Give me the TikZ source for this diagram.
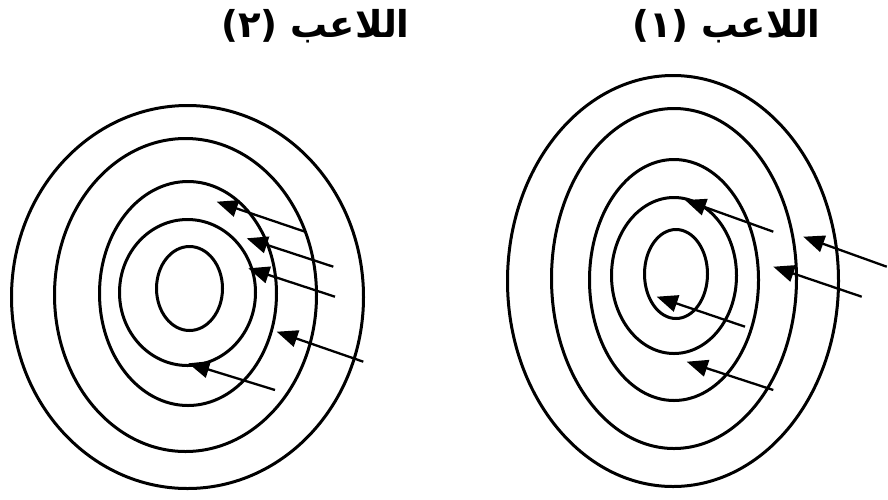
\documentclass[tikz,border=0pt]{standalone}
\usepackage{fontspec}
\usetikzlibrary{arrows.meta}
\newfontfamily\arabicfont[Script=Arabic]{DejaVu Sans}
\TeXXeTstate=1
\begin{document}
\begin{tikzpicture}[x=1pt,y=-1pt,
    ring/.style={line width=3pt},
    shot/.style={line width=2.3pt,-{Triangle[length=21pt,width=17pt]}},
    title/.style={anchor=base,inner sep=0pt,font=\arabicfont\bfseries\fontsize{37}{37}\selectfont}]
  \useasboundingbox (0,0) rectangle (888,499);

  % Player titles.
  \node[title] (ttwo) at (315.5,37) {\beginR اللاعب (٢)\endR};
  \node[title] (tone) at (726.5,37) {\beginR اللاعب (١)\endR};

  % Target of player 2 (left).
  \foreach \cx/\cy/\rx/\ry in {
      187.5/297/176/191.5,
      185.5/295/131/156.5,
      188/293.5/88.5/112,
      187.5/292.5/68/73,
      189.5/288.5/33/42} {
    \draw[ring] (\cx,\cy) ellipse [x radius=\rx, y radius=\ry];
  }

  % Target of player 1 (right).
  \foreach \cx/\cy/\rx/\ry in {
      673/281/165.5/205.5,
      674/278.5/122.5/170,
      674/280/84.5/120.5,
      674/275.5/62.5/78,
      676/274/31.5/44.5} {
    \draw[ring] (\cx,\cy) ellipse [x radius=\rx, y radius=\ry];
  }

  % Shots: tail -> hit point.
  \foreach \n/\tx/\ty/\hx/\hy in {
      a/305/231.7/216.7/201.7,
      b/333.3/266.7/246.7/238.3,
      c/335/296.7/248.3/268.3,
      d/363.3/361.7/276.7/331.7,
      e/275/390/188.3/363.3,
      f/773.3/231.7/685/200,
      g/886.7/266.7/803.3/236.7,
      h/861.7/296.7/773.3/266.7,
      i/745/326.7/656.7/296.7,
      j/773.3/390/686.7/361.7} {
    \coordinate (tail\n) at (\tx,\ty);
    \coordinate (hit\n) at (\hx,\hy);
    \draw[shot] (tail\n) -- (hit\n);
  }
\end{tikzpicture}
\end{document}
